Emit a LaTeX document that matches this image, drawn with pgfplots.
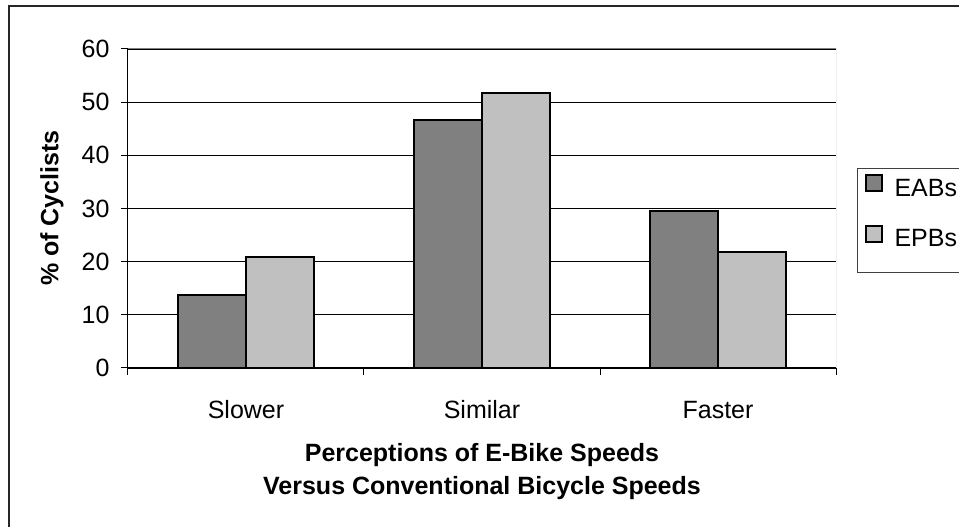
\documentclass[border=0pt]{standalone}
\usepackage{pgfplots}
\pgfplotsset{compat=1.18}
\usepackage{fontspec}
\setmainfont{Liberation Sans}
\definecolor{eab}{HTML}{808080}
\definecolor{epb}{HTML}{C0C0C0}
\newcommand{\legtext}[1]{\raisebox{16pt}{\makebox[95pt][l]{\hspace{10pt}\fontsize{25}{29}\selectfont #1}}}

\begin{document}
\begin{tikzpicture}
\begin{axis}[
    scale only axis,
    width=708pt, height=319pt,
    xmin=-0.5, xmax=2.5,
    ymin=0, ymax=60,
    ytick={0,10,...,60},
    xtick={-0.5,0.5,1.5,2.5},
    xticklabels={},
    extra x ticks={0,1,2},
    extra x tick labels={Slower,Similar,Faster},
    extra x tick style={major tick length=0pt, xticklabel style={anchor=base, yshift=-51pt}},
    tick align=outside,
    major tick length=7pt,
    tick style={black, line width=1pt},
    axis x line*=bottom,
    axis y line*=left,
    axis line style={black, line width=1pt, -},
    ymajorgrids,
    grid style={black, line width=0.9pt},
    ybar=0pt,
    bar width=68pt,
    tick label style={font=\fontsize{25}{29}\selectfont},
    yticklabel style={xshift=-8pt},
    /pgf/number format/assume math mode=true,
    legend style={at={(1.0297,0.627)}, anchor=north west,
        draw=black!75, line width=1pt,
        font=\fontsize{25}{29}\selectfont,
        inner xsep=7pt, inner ysep=6pt,
        row sep=9pt,
        nodes={inner xsep=2pt, inner ysep=2pt}},
    legend cell align=left,
    legend image code/.code={\draw[#1, line width=2pt] (0pt,5pt) rectangle (16pt,21pt);},
]
\addplot[fill=eab, draw=black, line width=2pt] coordinates {(0,13.7) (1,46.6) (2,29.6)};
\addlegendentry{\legtext{EABs}}
\addplot[fill=epb, draw=black, line width=2pt] coordinates {(0,20.9) (1,51.8) (2,21.9)};
\addlegendentry{\legtext{EPBs}}
% plot area border (gray) on top and right
\draw[gray, line width=1pt] (rel axis cs:0,1) -- (rel axis cs:1,1) -- (rel axis cs:1,0);
\coordinate (O) at (rel axis cs:0,0);
\end{axis}

% picture frame in pixel units, with the plot's lower left corner at (128,159)
\begin{scope}[shift={(O)}, x=1pt, y=1pt, shift={(-128,-159)}]
\coordinate (BL) at (0,0);
\coordinate (TR) at (959,527);
\draw[line width=1.5pt, black!85] (9,0) -- (9,521) -- (959,521);
\node[rotate=90, font=\bfseries\fontsize{25}{29}\selectfont] at (52,319) {\% of Cyclists};
\node[align=center, anchor=base, font=\bfseries\fontsize{25}{33}\selectfont] at (482,32)
    {Perceptions of E-Bike Speeds\\Versus Conventional Bicycle Speeds};
\end{scope}
\pgfresetboundingbox
\useasboundingbox (BL) rectangle (TR);
\end{tikzpicture}
\end{document}
